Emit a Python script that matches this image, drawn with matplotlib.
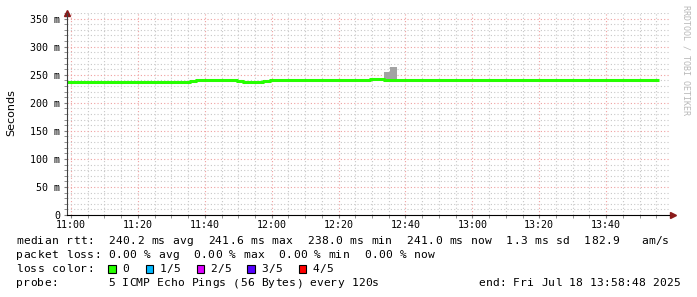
import numpy as np
import matplotlib
matplotlib.use("Agg")
import matplotlib.pyplot as plt
from matplotlib.ticker import MultipleLocator, FixedLocator

W, H = 697, 297

# median rtt (ms), step data, minutes after 11:00
med_t = [-1.2, 35.5, 37.5, 49.5, 51.5, 57.5, 59.5, 89.5, 93.5, 175.7]
med_v = [237.6, 238.2, 240.9, 239.3, 237.6, 238.3, 241.0, 241.8, 241.0, 241.0]

# smoke above the median (ms)
smoke_t = [93.5, 95.5, 97.5]
smoke_lo = [241.0, 241.0, 241.0]
smoke_hi = [254.0, 263.0, 263.0]

x_ticks = [0, 20, 40, 60, 80, 100, 120, 140, 160]
x_labels = ["11:00", "11:20", "11:40", "12:00", "12:20", "12:40", "13:00", "13:20", "13:40"]
y_ticks = [0, 50, 100, 150, 200, 250, 300, 350]
y_labels = ["0", "50 m", "100 m", "150 m", "200 m", "250 m", "300 m", "350 m"]

legend_lines = [
    "median rtt:  240.2 ms avg  241.6 ms max  238.0 ms min  241.0 ms now  1.3 ms sd  182.9   am/s",
    "packet loss: 0.00 % avg  0.00 % max  0.00 % min  0.00 % now",
    "loss color:",
    "probe:",
]
probe_text = "5 ICMP Echo Pings (56 Bytes) every 120s"
end_text = "end: Fri Jul 18 13:58:48 2025"

loss_labels = ["0", "1/5", "2/5", "3/5", "4/5"]
loss_colors = ["#26ff00", "#00b8ff", "#dd00ff", "#5500ff", "#ff0000"]

MONO = "DejaVu Sans Mono"
FS = 8.1
PITCH = 7.1


def fx(x):
    return x / W


def fy(y):
    return 1 - y / H


def mono(x, y, s, pitch=PITCH):
    # rrdtool spaces its glyphs a bit wider than matplotlib does
    for i, ch in enumerate(s):
        if ch != " ":
            fig.text(fx(x + i * pitch), fy(y), ch, ha="left", va="center",
                     family=MONO, fontsize=FS)


fig = plt.figure(figsize=(W / 100, H / 100), dpi=100)
left, right, top, bottom = 67, 669, 13, 215
ax = fig.add_axes([fx(left), fy(bottom), (right - left) / W, (bottom - top) / H])

ax.set_xlim(-1.2, 178.8)
ax.set_ylim(0, 360)

# grid
ax.xaxis.set_minor_locator(MultipleLocator(5))
ax.yaxis.set_minor_locator(MultipleLocator(10))
ax.xaxis.set_major_locator(FixedLocator(x_ticks))
ax.yaxis.set_major_locator(FixedLocator(y_ticks))
ax.grid(which="minor", color="#c8c8c8", linestyle=(0, (1, 2)), linewidth=0.8)
ax.grid(which="major", color="#f0a0a0", linestyle=(0, (1, 2)), linewidth=0.8)
ax.set_axisbelow(True)

ax.set_xticklabels(x_labels, family=MONO, fontsize=7.2)
ax.set_yticklabels(y_labels, family=MONO, fontsize=7.2)
ax.tick_params(which="both", length=2, color="#808080")
ax.tick_params(axis="x", pad=1.5)
ax.tick_params(axis="y", pad=3)

for s in ["top", "right"]:
    ax.spines[s].set_visible(False)
ax.spines["left"].set_color("#404040")
ax.spines["bottom"].set_color("#000000")

# smoke
ax.fill_between(smoke_t, smoke_lo, smoke_hi, step="post", color="#a3a3a3", lw=0)
# median
ax.step(med_t, med_v, where="post", color="#26ff00", lw=2.2, solid_capstyle="butt")

# axis arrows
ax.plot([0], [1.0], marker="^", color="#8b1a1a", ms=4, transform=ax.transAxes, clip_on=False)
ax.plot([1.006], [0], marker=">", color="#8b1a1a", ms=4, transform=ax.transAxes, clip_on=False)

fig.text(fx(11), fy(113), "Seconds", rotation=90, ha="center", va="center", fontsize=8)
fig.text(fx(686), fy(5), "RRDTOOL / TOBI OETIKER", rotation=270, ha="center", va="top",
         family=MONO, fontsize=6, color="#b8b8b8")

for y, s in zip([241, 255, 269, 283], legend_lines):
    mono(16, y, s)
mono(108, 283, probe_text, pitch=6.95)
mono(680 - len(end_text) * 6.95, 283, end_text, pitch=6.95)

box_x = [108, 145.5, 196.5, 247, 298.5]
for bx, lab, col in zip(box_x, loss_labels, loss_colors):
    fig.patches.append(plt.Rectangle((fx(bx), fy(273)), 7.5 / W, 8 / H, transform=fig.transFigure,
                                     facecolor=col, edgecolor="black", linewidth=0.8))
    mono(bx + 14, 269, lab)

fig.savefig("out.png", dpi=100)
